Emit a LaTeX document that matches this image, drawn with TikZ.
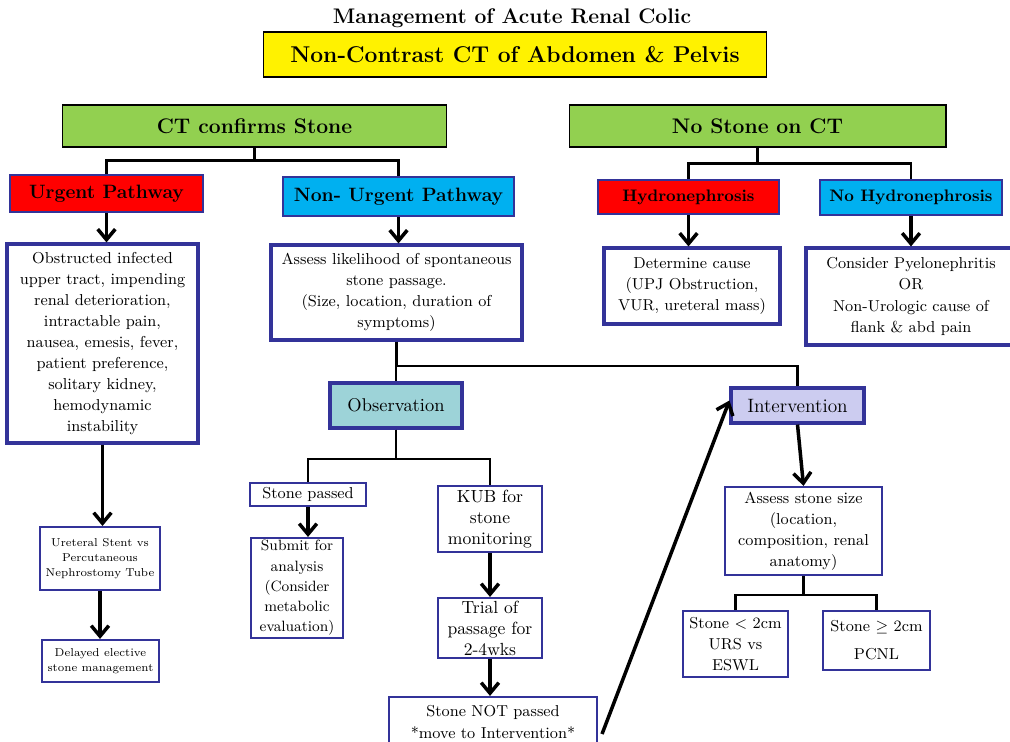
\documentclass[tikz,border=0pt]{standalone}
\usetikzlibrary{arrows.meta,positioning,calc}
\definecolor{navy}{HTML}{333399}
\definecolor{ctgreen}{HTML}{92D050}
\definecolor{skyblue}{HTML}{00B0F0}
\definecolor{obsteal}{HTML}{9DD3D8}
\definecolor{lavender}{HTML}{CCCCF0}
\begin{document}
\begin{tikzpicture} [
        x=0.02cm, y=-0.02cm,
        head/.style = {draw=black, line width=0.6pt, inner sep=0pt, font=\bfseries\fontsize{12}{14}\selectfont},
        path box/.style = {draw=navy, line width=1.2pt, inner sep=0pt, font=\bfseries\fontsize{11}{13}\selectfont},
        info/.style = {draw=navy, line width=1.8pt, fill=white, inner sep=0pt, align=center, font=\fontsize{9}{12}\selectfont},
        thin info/.style = {info, line width=1.2pt},
        link/.style = {draw, line width=1.2pt},
        arrow/.style = {draw, line width=2pt, -{Straight Barb[length=6pt,width=10pt,line width=2pt]}},
    ]
    \useasboundingbox (0,0) rectangle (1010,742);
    % Title and CT box
    \node[font=\bfseries\fontsize{12}{14}\selectfont] (title) at (512,18) {Management of Acute Renal Colic};
    \node[head, fill=yellow, minimum width=10.08cm, minimum height=0.9cm, font=\bfseries\fontsize{13}{16}\selectfont] (ct) at (515,54.5) {Non-Contrast CT of Abdomen \& Pelvis};
    % Two main branches
    \node[head, fill=ctgreen, minimum width=7.7cm, minimum height=0.84cm] (stone) at (254.5,126) {CT confirms Stone};
    \node[head, fill=ctgreen, minimum width=7.54cm, minimum height=0.84cm] (nostone) at (757.5,126) {No Stone on CT};
    \node[path box, fill=red, minimum width=3.86cm, minimum height=0.74cm] (urgent) at (106.5,193.5) {Urgent Pathway};
    \node[path box, fill=skyblue, minimum width=4.62cm, minimum height=0.78cm] (nonurgent) at (398.5,196.5) {Non- Urgent Pathway};
    \node[path box, fill=red, minimum width=3.62cm, minimum height=0.68cm, font=\bfseries\fontsize{9.5}{12}\selectfont] (hydro) at (688.5,197) {Hydronephrosis};
    \node[path box, fill=skyblue, minimum width=3.64cm, minimum height=0.7cm, font=\bfseries\fontsize{9.5}{12}\selectfont] (nohydro) at (911,197.5) {No Hydronephrosis};
    % Info boxes
    \node[info, minimum width=3.82cm, minimum height=3.98cm] (obstructed) at (102.5,343.5)
        {Obstructed infected\\upper tract, impending\\renal deterioration,\\intractable pain,\\nausea, emesis, fever,\\patient preference,\\solitary kidney,\\hemodynamic\\instability};
    \node[info, minimum width=5.02cm, minimum height=1.9cm] (assess) at (396.5,292.5)
        {Assess likelihood of spontaneous\\stone passage.\\(Size, location, duration of\\symptoms)};
    \node[info, minimum width=3.52cm, minimum height=1.52cm] (cause) at (692,286)
        {Determine cause\\(UPJ Obstruction,\\VUR, ureteral mass)};
    \node[info, minimum width=4.2cm, minimum height=1.94cm] (pyelo) at (911,296.5)
        {Consider Pyelonephritis\\OR\\Non-Urologic cause of\\flank \& abd pain};
    \node[info, fill=obsteal, minimum width=2.64cm, minimum height=0.9cm, font=\fontsize{10.5}{12}\selectfont] (observation) at (396,405.5) {Observation};
    \node[info, fill=lavender, minimum width=2.66cm, minimum height=0.7cm, font=\fontsize{11}{12}\selectfont] (intervention) at (797.5,405.5) {Intervention};
    % Observation branch
    \node[thin info, minimum width=2.32cm, minimum height=0.46cm] (passed) at (308,494.5) {Stone passed};
    \node[thin info, minimum width=1.84cm, minimum height=2.0cm, font=\fontsize{8.5}{11.5}\selectfont] (submit) at (297,588)
        {Submit for\\analysis\\(Consider\\metabolic\\evaluation)};
    \node[thin info, minimum width=2.08cm, minimum height=1.32cm, font=\fontsize{10}{12}\selectfont] (kub) at (490,519) {KUB for\\stone\\monitoring};
    \node[thin info, minimum width=2.08cm, minimum height=1.2cm, font=\fontsize{10}{12}\selectfont] (trial) at (490,628) {Trial of\\passage for\\2-4wks};
    \node[thin info, minimum width=4.16cm, minimum height=1.0cm] (notpassed) at (493,722)
        {Stone NOT passed\\*move to Intervention*};
    % Urgent branch
    \node[thin info, minimum width=2.4cm, minimum height=1.26cm, font=\fontsize{6.5}{8.5}\selectfont] (stent) at (100,558.5)
        {Ureteral Stent vs\\Percutaneous\\Nephrostomy Tube};
    \node[thin info, minimum width=2.34cm, minimum height=0.84cm, font=\fontsize{6.5}{8.5}\selectfont] (delayed) at (100.5,661)
        {Delayed elective\\stone management};
    % Intervention branch
    \node[thin info, minimum width=3.14cm, minimum height=1.76cm] (size) at (803.5,531)
        {Assess stone size\\(location,\\composition, renal\\anatomy)};
    \node[thin info, line width=0.9pt, minimum width=2.1cm, minimum height=1.32cm] (small) at (735.5,644)
        {Stone $<$ 2cm\\URS vs\\ESWL};
    \node[thin info, line width=0.9pt, minimum width=2.14cm, minimum height=1.18cm] (large) at (876.5,640.5)
        {Stone $\geq$ 2cm\\[4pt]PCNL};
    % Elbow links
    \foreach \source/\drop/\dest in {
            stone/13/urgent, stone/13/nonurgent,
            nostone/16/hydro, nostone/16/nohydro,
            assess/24/observation, assess/24/intervention,
            observation/29/passed, observation/29/kub,
            size/19/small, size/19/large}
        \path[link] (\source.south) -- ++(0,\drop) -| (\dest.north);
    % Arrows
    \foreach \source/\dest in {
            urgent/obstructed, nonurgent/assess,
            hydro/cause, nohydro/pyelo,
            obstructed/stent, stent/delayed,
            passed/submit, kub/trial, trial/notpassed}
        \path[arrow] (\source.south) -- (\source.south |- \dest.north);
    \path[arrow] (intervention.south) -- (size.north);
    \path[arrow] ([xshift=0.08cm,yshift=-0.24cm]notpassed.east) -- ([yshift=0.1cm]intervention.west);
\end{tikzpicture}
\end{document}
